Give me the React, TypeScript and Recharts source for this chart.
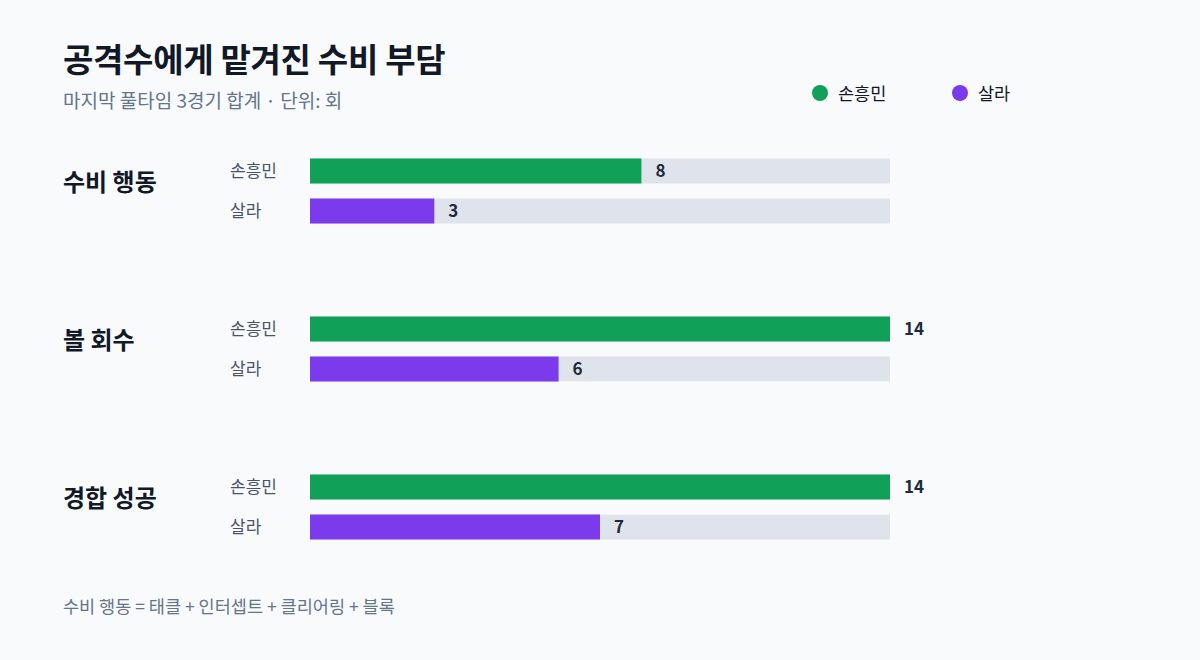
import { BarChart, Bar, XAxis, YAxis, LabelList } from 'recharts'

const categories = ['수비 행동', '볼 회수', '경합 성공']
const playerNames = ['손흥민', '살라']
const sonValues = [8, 14, 14]
const salahValues = [3, 6, 7]
const xDomain = [0, 14]

const colors = ['#10a057', '#7c3aed']
const font = '"Noto Sans CJK KR", "Noto Sans", sans-serif'

const data = categories.map((c, i) => ({
  category: c,
  son: sonValues[i],
  salah: salahValues[i],
}))

function GroupTick(props: any) {
  const { y, payload } = props
  return (
    <g>
      <text x={63} y={y} dy={0} fontSize={24} fontWeight={700} fill="#111827" fontFamily={font}>
        {payload.value}
      </text>
      <text x={230} y={y - 20} dy={6} fontSize={17} fill="#475569" fontFamily={font}>
        {playerNames[0]}
      </text>
      <text x={230} y={y + 20} dy={6} fontSize={17} fill="#475569" fontFamily={font}>
        {playerNames[1]}
      </text>
    </g>
  )
}

function LegendBox() {
  return (
    <div style={{ display: 'flex', fontFamily: font, fontSize: 17.5, color: '#111827' }}>
      {playerNames.map((name, i) => (
        <div key={name} style={{ display: 'flex', alignItems: 'center', width: 140 }}>
          <span
            style={{
              width: 16,
              height: 16,
              borderRadius: 8,
              background: colors[i],
              display: 'inline-block',
              marginRight: 10,
            }}
          />
          {name}
        </div>
      ))}
    </div>
  )
}

export default function App() {
  return (
    <div
      style={{
        position: 'absolute',
        top: 0,
        left: 0,
        width: 1200,
        height: 660,
        background: '#f8fafc',
        fontFamily: font,
        overflow: 'hidden',
      }}
    >
      <div style={{ position: 'absolute', left: 63, top: 34, fontSize: 33, fontWeight: 700, color: '#111827', letterSpacing: -0.3 }}>
        공격수에게 맡겨진 수비 부담
      </div>
      <div style={{ position: 'absolute', left: 63, top: 86, fontSize: 19, color: '#64748b' }}>
        마지막 풀타임 3경기 합계 · 단위: 회
      </div>
      <div style={{ position: 'absolute', left: 63, top: 593, fontSize: 17.5, color: '#64748b' }}>
        수비 행동 = 태클 + 인터셉트 + 클리어링 + 블록
      </div>
      <div style={{ position: 'absolute', left: 812, top: 80 }}>
        <LegendBox />
      </div>
      <div style={{ position: 'absolute', left: 0, top: 0 }}>
        <BarChart
          width={1200}
          height={660}
          data={data}
          layout="vertical"
          margin={{ top: 111.5, bottom: 74.5, left: 10, right: 310 }}
          barSize={25}
          barGap={15}
        >
          <XAxis type="number" domain={xDomain} hide />
          <YAxis
            type="category"
            dataKey="category"
            width={300}
            axisLine={false}
            tickLine={false}
            tick={<GroupTick />}
          />
          <Bar dataKey="son" name={playerNames[0]} fill={colors[0]} background={{ fill: '#dfe3ec' }} isAnimationActive={false}>
            <LabelList dataKey="son" position="right" offset={14} fill="#1e293b" fontSize={17} fontWeight={700} fontFamily={font} />
          </Bar>
          <Bar dataKey="salah" name={playerNames[1]} fill={colors[1]} background={{ fill: '#dfe3ec' }} isAnimationActive={false}>
            <LabelList dataKey="salah" position="right" offset={14} fill="#1e293b" fontSize={17} fontWeight={700} fontFamily={font} />
          </Bar>
        </BarChart>
      </div>
    </div>
  )
}
